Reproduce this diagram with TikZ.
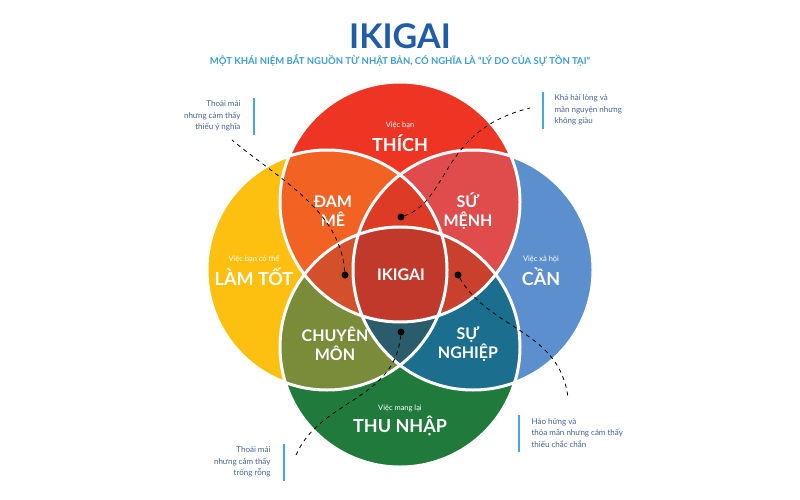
\documentclass[tikz,border=0pt]{standalone}
\usepackage{fontspec}
\setmainfont{Lato}
\definecolor{cY}{RGB}{253,192,16}
\definecolor{cR}{RGB}{91,143,205}
\definecolor{cT}{RGB}{238,53,36}
\definecolor{cB}{RGB}{31,122,60}
\definecolor{cTL}{RGB}{242,98,34}
\definecolor{cTR}{RGB}{224,75,75}
\definecolor{cBL}{RGB}{122,139,58}
\definecolor{cBR}{RGB}{28,110,142}
\definecolor{cTLB}{RGB}{212,80,42}
\definecolor{cTRB}{RGB}{201,64,45}
\definecolor{cLRT}{RGB}{221,59,38}
\definecolor{cLRB}{RGB}{42,92,107}
\definecolor{cAll}{RGB}{192,57,43}
\definecolor{cTitle}{RGB}{31,93,168}
\definecolor{cSub}{RGB}{58,160,216}
\definecolor{cNote}{RGB}{70,100,150}
\definecolor{cBar}{RGB}{63,169,224}
\begin{document}
\begin{tikzpicture}[x=1pt,y=-1pt,
  small/.style={text=white,font=\fontsize{7.5}{8}\selectfont},
  big/.style={text=white,font=\bfseries\fontsize{18}{19}\selectfont},
  mid/.style={text=white,font=\bfseries\fontsize{16}{19}\selectfont,align=center},
  note/.style={text=cNote,font=\fontsize{8}{11.5}\selectfont},
  bar/.style={draw=cBar,line width=2.5pt},
  dash line/.style={dash pattern=on 4pt off 4pt,line width=0.8pt},
  dot/.style={circle,fill=black,inner sep=0pt,minimum size=7pt}]
\useasboundingbox (0,0) rectangle (800,500);
\fill[white] (0,0) rectangle (800,500);
\def\rr{120}
\def\T{(400,202) circle[radius=\rr]}
\def\L{(327,270) circle[radius=\rr]}
\def\R{(473,270) circle[radius=\rr]}
\def\B{(400,347) circle[radius=\rr]}
\fill[cY] \L;
\fill[cR] \R;
\fill[cT] \T;
\fill[cB] \B;
\begin{scope}\clip \T; \fill[cTL] \L; \fill[cTR] \R;\end{scope}
\begin{scope}\clip \B; \fill[cBL] \L; \fill[cBR] \R;\end{scope}
\begin{scope}\clip \T; \clip \L; \fill[cTLB] \B;\end{scope}
\begin{scope}\clip \T; \clip \R; \fill[cTRB] \B;\end{scope}
\begin{scope}\clip \L; \clip \R; \fill[cLRT] \T; \fill[cLRB] \B;\end{scope}
\begin{scope}\clip \L; \clip \R; \clip \T; \fill[cAll] \B;\end{scope}
\draw[white,line width=3pt] \L \R \T \B;
% titles
\node[text=cTitle,font=\bfseries\fontsize{34}{36}\selectfont] (title) at (400,36) {IKIGAI};
\node[text=cSub,font=\bfseries\fontsize{9.5}{12}\selectfont] (sub) at (400,60) {MỘT KHÁI NIỆM BẮT NGUỒN TỪ NHẬT BẢN, CÓ NGHĨA LÀ “LÝ DO CỦA SỰ TỒN TẠI”};
% labels
\node[small] (t1) at (400,125) {Việc bạn};
\node[big] (t2) at (400,143) {THÍCH};
\node[small] (l1) at (254,259) {Việc bạn có thể};
\node[big] (l2) at (254,277) {LÀM TỐT};
\node[small] (r1) at (541,259) {Việc xã hội};
\node[big] (r2) at (541,277) {CẦN};
\node[small] (b1) at (400,408) {Việc mang lại};
\node[big] (b2) at (400,426) {THU NHẬP};
\node[mid] (dm) at (333,211) {ĐAM\\MÊ};
\node[mid] (sm) at (468,211) {SỨ\\MỆNH};
\node[mid] (cm) at (335,344) {CHUYÊN\\MÔN};
\node[mid] (sn) at (468,344) {SỰ\\NGHIỆP};
\node[mid] (ik) at (401,275) {IKIGAI};
% dots
\node[dot] (d1) at (345,275) {};
\node[dot] (d2) at (401,217) {};
\node[dot] (d3) at (458,275) {};
\node[dot] (d4) at (401,332) {};
% notes
\node[note,align=right,anchor=east] (n1) at (244,116) {Thoải mái\\nhưng cảm thấy\\thiếu ý nghĩa};
\draw[bar] (254,98) -- (254,135);
\node[note,align=left,anchor=west] (n2) at (551,110) {Khá hài lòng và\\mãn nguyện nhưng\\không giàu};
\draw[bar] (543,92) -- (543,129);
\node[note,align=right,anchor=east] (n3) at (274,462) {Thoải mái\\nhưng cảm thấy\\trống rỗng};
\draw[bar] (284,444) -- (284,481);
\node[note,align=left,anchor=west] (n4) at (528,433) {Hào hứng và\\thỏa mãn nhưng cảm thấy\\thiếu chắc chắn};
\draw[bar] (519,415) -- (519,452);
% dashed connectors
\coordinate (c1) at (232,140);
\coordinate (c2) at (530,108);
\coordinate (c3) at (568,398);
\coordinate (c4) at (296,455);
\draw[dash line] (d1) .. controls (340,210) and (280,180) .. (c1);
\draw[dash line] (d2) .. controls (450,200) and (440,130) .. (c2);
\draw[dash line] (d3) .. controls (490,330) and (560,330) .. (c3);
\draw[dash line] (d4) .. controls (395,400) and (320,400) .. (c4);
\end{tikzpicture}
\end{document}
